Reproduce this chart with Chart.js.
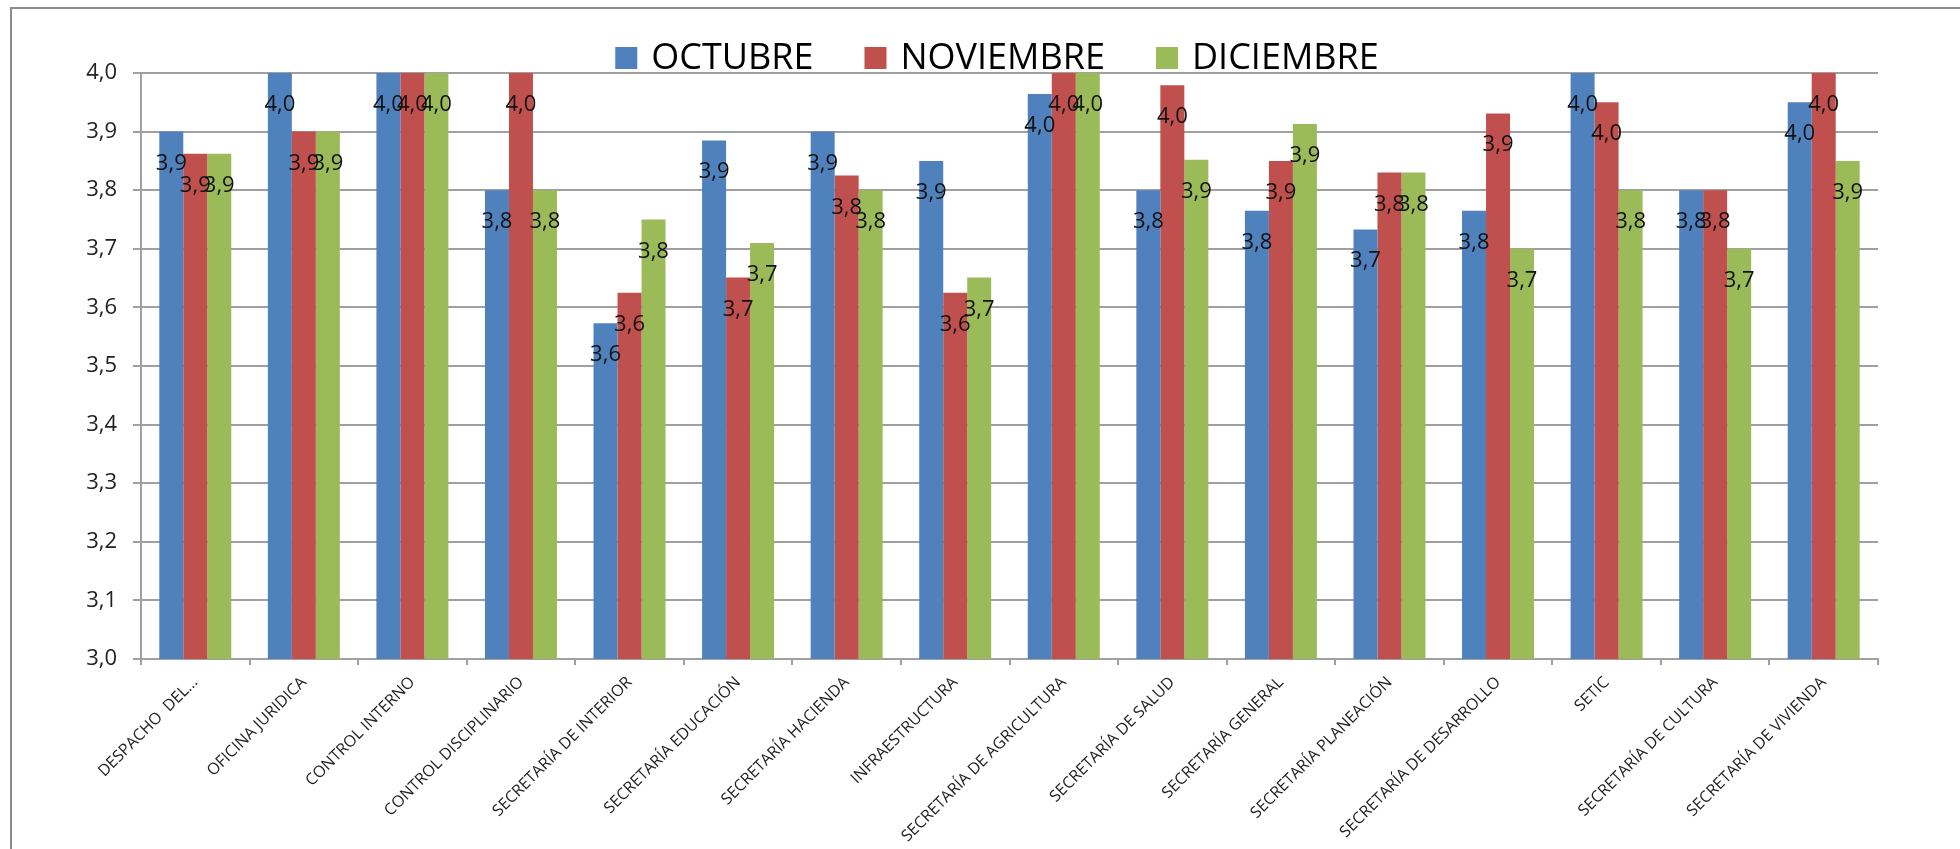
<!DOCTYPE html>
<html>
<head>
<meta charset="utf-8">
<script src="https://cdn.jsdelivr.net/npm/chart.js@4.4.0/dist/chart.umd.min.js"></script>
<style>
  html, body { margin: 0; padding: 0; background: #fff; }
  canvas { display: block; }
</style>
</head>
<body>
<canvas id="chart" width="1960" height="849"></canvas>
<script>
"use strict";

const categories = [
  'DESPACHO  DEL...', 'OFICINA JURIDICA', 'CONTROL INTERNO', 'CONTROL DISCIPLINARIO',
  'SECRETARÍA DE INTERIOR', 'SECRETARÍA EDUCACIÓN', 'SECRETARÍA HACIENDA', 'INFRAESTRUCTURA',
  'SECRETARÍA DE AGRICULTURA', 'SECRETARÍA DE SALUD', 'SECRETARÍA GENERAL', 'SECRETARÍA PLANEACIÓN',
  'SECRETARÍA DE DESARROLLO', 'SETIC', 'SECRETARÍA DE CULTURA', 'SECRETARÍA DE VIVIENDA'
];

const seriesNames = ['OCTUBRE', 'NOVIEMBRE', 'DICIEMBRE'];
const octubre   = [3.90, 4.00, 4.00, 3.80, 3.573, 3.885, 3.90, 3.85, 3.964, 3.80, 3.765, 3.733, 3.765, 4.00, 3.80, 3.95];
const noviembre = [3.862, 3.90, 4.00, 4.00, 3.625, 3.651, 3.825, 3.625, 4.00, 3.979, 3.85, 3.83, 3.931, 3.95, 3.80, 4.00];
const diciembre = [3.862, 3.90, 4.00, 3.80, 3.75, 3.71, 3.80, 3.651, 4.00, 3.852, 3.913, 3.83, 3.70, 3.80, 3.70, 3.85];

const Y_MIN = 3.0;
const Y_MAX = 4.0;
const Y_STEP = 0.1;

const colors = ['#4F81BD', '#C0504D', '#9BBB59'];
const FONT = '"Open Sans", "DejaVu Sans", sans-serif';
const fmt = v => v.toFixed(1).replace('.', ',');

// outer frame (top and left edges only, as in the original)
const frame = {
  id: 'frame',
  beforeDraw(chart) {
    const ctx = chart.ctx;
    ctx.save();
    ctx.fillStyle = '#fff';
    ctx.fillRect(0, 0, chart.width, chart.height);
    ctx.strokeStyle = '#8c8c8c';
    ctx.lineWidth = 2;
    ctx.beginPath();
    ctx.moveTo(11, chart.height);
    ctx.lineTo(11, 8);
    ctx.lineTo(chart.width, 8);
    ctx.stroke();
    ctx.restore();
  }
};

// value labels just under the top of every bar
const valueLabels = {
  id: 'valueLabels',
  afterDatasetsDraw(chart) {
    const ctx = chart.ctx;
    ctx.save();
    ctx.font = '22px ' + FONT;
    ctx.fillStyle = '#111';
    ctx.textAlign = 'center';
    ctx.textBaseline = 'alphabetic';
    chart.data.datasets.forEach((ds, i) => {
      chart.getDatasetMeta(i).data.forEach((bar, j) => {
        ctx.fillText(fmt(ds.data[j]), bar.x, bar.y + 38);
      });
    });
    ctx.restore();
  }
};

// legend row sitting over the top of the plot
const legendRow = {
  id: 'legendRow',
  afterDraw(chart) {
    const ctx = chart.ctx;
    ctx.save();
    ctx.font = '36px ' + FONT;
    const items = chart.data.datasets.map(ds => ({
      label: ds.label, color: ds.backgroundColor, w: ctx.measureText(ds.label).width
    }));
    const box = 22, gap = 14, between = 51;
    const total = items.reduce((s, it) => s + box + gap + it.w, 0) + between * (items.length - 1);
    let x = 997 - total / 2;
    const base = 69;
    ctx.textBaseline = 'alphabetic';
    items.forEach(it => {
      ctx.fillStyle = it.color;
      ctx.fillRect(x, base - box, box, box);
      ctx.fillStyle = '#000';
      ctx.fillText(it.label, x + box + gap, base);
      x += box + gap + it.w + between;
    });
    ctx.restore();
  }
};

const datasets = [octubre, noviembre, diciembre].map((data, i) => ({
  label: seriesNames[i],
  data: data,
  backgroundColor: colors[i],
  borderWidth: 0,
  categoryPercentage: 0.663,
  barPercentage: 1.0
}));

new Chart(document.getElementById('chart'), {
  type: 'bar',
  data: { labels: categories, datasets: datasets },
  options: {
    responsive: false,
    animation: false,
    devicePixelRatio: 1,
    layout: { padding: { top: 73, right: 82, bottom: 0, left: 0 } },
    plugins: {
      legend: { display: false },
      title: { display: false },
      tooltip: { enabled: false }
    },
    scales: {
      x: {
        afterFit(scale) { scale.height = 190; },
        grid: {
          drawOnChartArea: false,
          drawTicks: true,
          tickLength: 6,
          color: '#a0a0a0',
          lineWidth: 2
        },
        border: { color: '#a0a0a0', width: 2 },
        ticks: {
          autoSkip: false,
          minRotation: 45,
          maxRotation: 45,
          padding: 8,
          color: '#222',
          font: { family: FONT, size: 16 }
        }
      },
      y: {
        min: Y_MIN,
        max: Y_MAX,
        afterFit(scale) { scale.width = 141; },
        grid: { color: '#a0a0a0', lineWidth: 2, tickLength: 8 },
        border: { color: '#a0a0a0', width: 2 },
        ticks: {
          stepSize: Y_STEP,
          padding: 16,
          color: '#222',
          font: { family: FONT, size: 22 },
          callback: v => fmt(v)
        }
      }
    }
  },
  plugins: [frame, valueLabels, legendRow]
});
</script>
</body>
</html>
